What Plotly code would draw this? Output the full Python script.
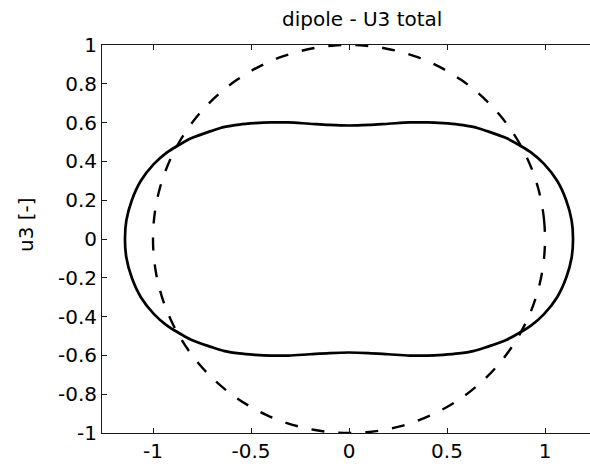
import numpy as np
import plotly.graph_objects as go

# ---- data ----
title_text = "dipole - U3 total"
y_label = "u3 [-]"

# solid curve (U3 total), first quadrant, from (x_max, 0) to (0, y at top)
q1_x = [1.143, 1.136, 1.108, 1.062, 0.995, 0.930, 0.872, 0.805,
        0.705, 0.634, 0.560, 0.480, 0.400, 0.310, 0.200, 0.100, 0.000]
q1_y = [0.000, 0.095, 0.200, 0.300, 0.387, 0.445, 0.482, 0.519,
        0.556, 0.578, 0.590, 0.597, 0.601, 0.601, 0.594, 0.588, 0.585]

# dashed reference circle (polar form)
circle_theta_deg = list(range(0, 361, 5))
circle_r = [1.0] * len(circle_theta_deg)

x_tick_vals = [-1, -0.5, 0, 0.5, 1]
x_tick_text = ["-1", "-0.5", "0", "0.5", "1"]
y_tick_vals = [-1, -0.8, -0.6, -0.4, -0.2, 0, 0.2, 0.4, 0.6, 0.8, 1]
y_tick_text = ["-1", "-0.8", "-0.6", "-0.4", "-0.2", "0", "0.2", "0.4", "0.6", "0.8", "1"]

# ---- build full closed solid curve from the symmetric quadrant ----
qx = np.array(q1_x)
qy = np.array(q1_y)
sx = np.concatenate([qx, -qx[::-1][1:], -qx[1:], qx[::-1][1:]])
sy = np.concatenate([qy, qy[::-1][1:], -qy[1:], -qy[::-1][1:]])

th = np.radians(circle_theta_deg)
cx = np.array(circle_r) * np.cos(th)
cy = np.array(circle_r) * np.sin(th)

FONT = "DejaVu Sans"
AX = "#1a1a1a"

fig = go.Figure()
fig.add_trace(go.Scatter(x=sx, y=sy, mode="lines",
                         line=dict(color="black", width=2.7, shape="spline", smoothing=1.0),
                         hoverinfo="skip"))
fig.add_trace(go.Scatter(x=cx, y=cy, mode="lines",
                         line=dict(color="black", width=2.4, dash="13px,14px", shape="spline"),
                         hoverinfo="skip"))

W, H = 590, 467
L, R, T, B = 102, 0, 45, 34
pw = W - L - R
ph = H - T - B

fig.update_layout(
    width=W, height=H,
    margin=dict(l=L, r=R, t=T, b=B),
    paper_bgcolor="white", plot_bgcolor="white",
    showlegend=False,
    font=dict(family=FONT, size=20, color="black"),
    xaxis=dict(range=[-1.2602, 1.2296], showgrid=False, zeroline=False,
               showline=True, mirror="ticks", linecolor=AX, linewidth=1,
               ticks="inside", ticklen=5, tickcolor=AX, tickwidth=1,
               tickvals=x_tick_vals, ticktext=x_tick_text,
               tickfont=dict(family=FONT, size=20, color="black")),
    yaxis=dict(range=[-1, 1], showgrid=False, zeroline=False,
               showline=True, mirror=False, linecolor=AX, linewidth=1,
               ticks="inside", ticklen=5, tickcolor=AX, tickwidth=1,
               tickvals=y_tick_vals, ticktext=y_tick_text,
               tickfont=dict(family=FONT, size=20, color="black")),
    annotations=[
        dict(text=title_text, xref="paper", yref="paper",
             x=(362 - L) / pw, y=1 + (T - 19) / ph, xanchor="center", yanchor="middle",
             showarrow=False, font=dict(family=FONT, size=20, color="black")),
        dict(text=y_label, xref="paper", yref="paper", textangle=-90,
             x=(26 - L) / pw, y=(H - B - 225) / ph, xanchor="center", yanchor="middle",
             showarrow=False, font=dict(family=FONT, size=20, color="black")),
    ],
)

fig.write_html("out.html")
